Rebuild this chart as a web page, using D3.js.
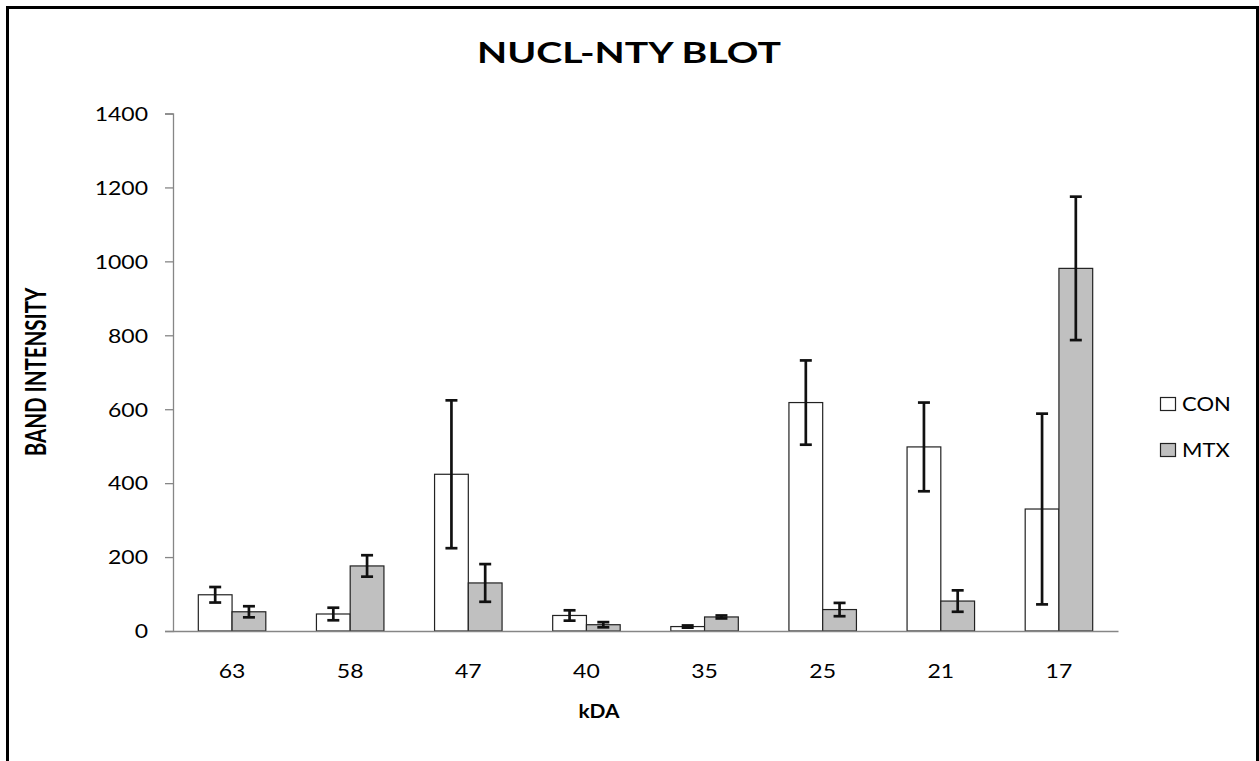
<!DOCTYPE html>
<html>
<head>
<meta charset="utf-8">
<script src="https://cdn.jsdelivr.net/npm/d3@7"></script>
<style>
  html, body { margin: 0; padding: 0; background: #fff; }
  svg { display: block; }
</style>
</head>
<body>
<svg id="chart" width="1259" height="761"></svg>
<script>
// Band intensity per molecular weight (kDa), control vs. MTX, with error bars
const categories = ["63", "58", "47", "40", "35", "25", "21", "17"];
const series = ["CON", "MTX"];
const conValues = [98, 46, 424, 42, 12, 618, 498, 330];
const conErrors = [21, 17, 200, 14, 3, 114, 120, 258];
const mtxValues = [52, 176, 130, 17, 38, 58, 81, 981];
const mtxErrors = [15, 29, 51, 7, 4, 18, 29, 194];
const yTicks = [0, 200, 400, 600, 800, 1000, 1200, 1400];
const seriesFill = { CON: "#ffffff", MTX: "#c0c0c0" };

const rows = categories.map((c, i) => ({
  cat: c,
  items: [
    { key: "CON", value: conValues[i], err: conErrors[i] },
    { key: "MTX", value: mtxValues[i], err: mtxErrors[i] }
  ]
}));

const svg = d3.select("#chart");
const FONT = "Lato, 'Open Sans', sans-serif";

// plot area
const plotLeft = 173, plotRight = 1118, plotTop = 113.5, plotBottom = 631;

const x = d3.scaleBand().domain(categories).range([plotLeft, plotRight]).padding(0);
const bw = x.bandwidth();
const w = bw / 3.5;
const xs = d3.scaleBand().domain(series).range([0.75 * w, 2.75 * w]).padding(0);
const y = d3.scaleLinear().domain([0, 1400]).range([plotBottom, plotTop]);

// outer frame
svg.append("rect")
  .attr("x", 7.5).attr("y", 7.5)
  .attr("width", 1250).attr("height", 800)
  .attr("fill", "none").attr("stroke", "#000").attr("stroke-width", 3);

// text with a horizontal stretch factor
function stretchedText(g, px, py, str, opts) {
  const sx = opts.sx || 1.15;
  return g.append("text")
    .attr("transform", `translate(${px},${py}) scale(${sx},1)` + (opts.rotate ? ` rotate(${opts.rotate})` : ""))
    .attr("x", 0).attr("y", 0)
    .attr("font-family", FONT)
    .attr("font-size", opts.size)
    .attr("font-weight", opts.weight || "normal")
    .attr("text-anchor", opts.anchor || "middle")
    .attr("fill", "#000")
    .text(str);
}

// title
stretchedText(svg, 629, 63, "NUCL-NTY BLOT", { size: 28, weight: "bold", sx: 1.40 });

// y axis
const yAxis = d3.axisLeft(y).tickValues(yTicks).tickSize(8).tickFormat("");
const gy = svg.append("g").attr("transform", `translate(${plotLeft},0)`).call(yAxis);
gy.select(".domain").attr("stroke", "#868686").attr("stroke-width", 1.3);
gy.selectAll(".tick line").attr("stroke", "#868686").attr("stroke-width", 1.3);
yTicks.forEach(v => {
  stretchedText(svg, 148, y(v) + 7.3, String(v), { size: 20, anchor: "end", sx: 1.15 });
});

// bars
const groups = svg.append("g").selectAll("g.grp")
  .data(rows).join("g")
  .attr("class", "grp")
  .attr("transform", d => `translate(${x(d.cat)},0)`);

groups.selectAll("rect.bar")
  .data(d => d.items).join("rect")
  .attr("class", "bar")
  .attr("x", d => xs(d.key))
  .attr("y", d => y(d.value))
  .attr("width", xs.bandwidth())
  .attr("height", d => y(0) - y(d.value))
  .attr("fill", d => seriesFill[d.key])
  .attr("stroke", "#222")
  .attr("stroke-width", 1.2);

// error bars
const capHalf = 6;
const eb = groups.selectAll("g.err")
  .data(d => d.items).join("g")
  .attr("class", "err")
  .attr("transform", d => `translate(${xs(d.key) + xs.bandwidth() / 2},0)`);
eb.append("line")
  .attr("x1", 0).attr("x2", 0)
  .attr("y1", d => y(d.value + d.err))
  .attr("y2", d => y(d.value - d.err))
  .attr("stroke", "#111").attr("stroke-width", 2.7);
eb.append("line")
  .attr("x1", -capHalf).attr("x2", capHalf)
  .attr("y1", d => y(d.value + d.err)).attr("y2", d => y(d.value + d.err))
  .attr("stroke", "#111").attr("stroke-width", 2.7);
eb.append("line")
  .attr("x1", -capHalf).attr("x2", capHalf)
  .attr("y1", d => y(d.value - d.err)).attr("y2", d => y(d.value - d.err))
  .attr("stroke", "#111").attr("stroke-width", 2.7);

// x axis
const xAxis = d3.axisBottom(x).tickSize(0).tickFormat("");
const gx = svg.append("g").attr("transform", `translate(0,${plotBottom})`).call(xAxis);
gx.select(".domain").attr("stroke", "#868686").attr("stroke-width", 1.3);
categories.forEach(c => {
  stretchedText(svg, x(c) + bw / 2, 678, c, { size: 20, sx: 1.15 });
});

// axis titles
stretchedText(svg, 599, 718, "kDA", { size: 19, weight: "bold", sx: 1.1 });
stretchedText(svg, 46, 372, "BAND INTENSITY", { size: 20.5, weight: "bold", rotate: -90, sx: 1.38 });

// legend
const legendRows = [{ key: "CON", yb: 411 }, { key: "MTX", yb: 457 }];
legendRows.forEach(r => {
  svg.append("rect")
    .attr("x", 1160.5).attr("y", r.yb - 13.5)
    .attr("width", 15).attr("height", 13)
    .attr("fill", seriesFill[r.key])
    .attr("stroke", "#222").attr("stroke-width", 1.2);
  stretchedText(svg, 1182, r.yb, r.key, { size: 19.5, anchor: "start", sx: 1.13 });
});
</script>
</body>
</html>
